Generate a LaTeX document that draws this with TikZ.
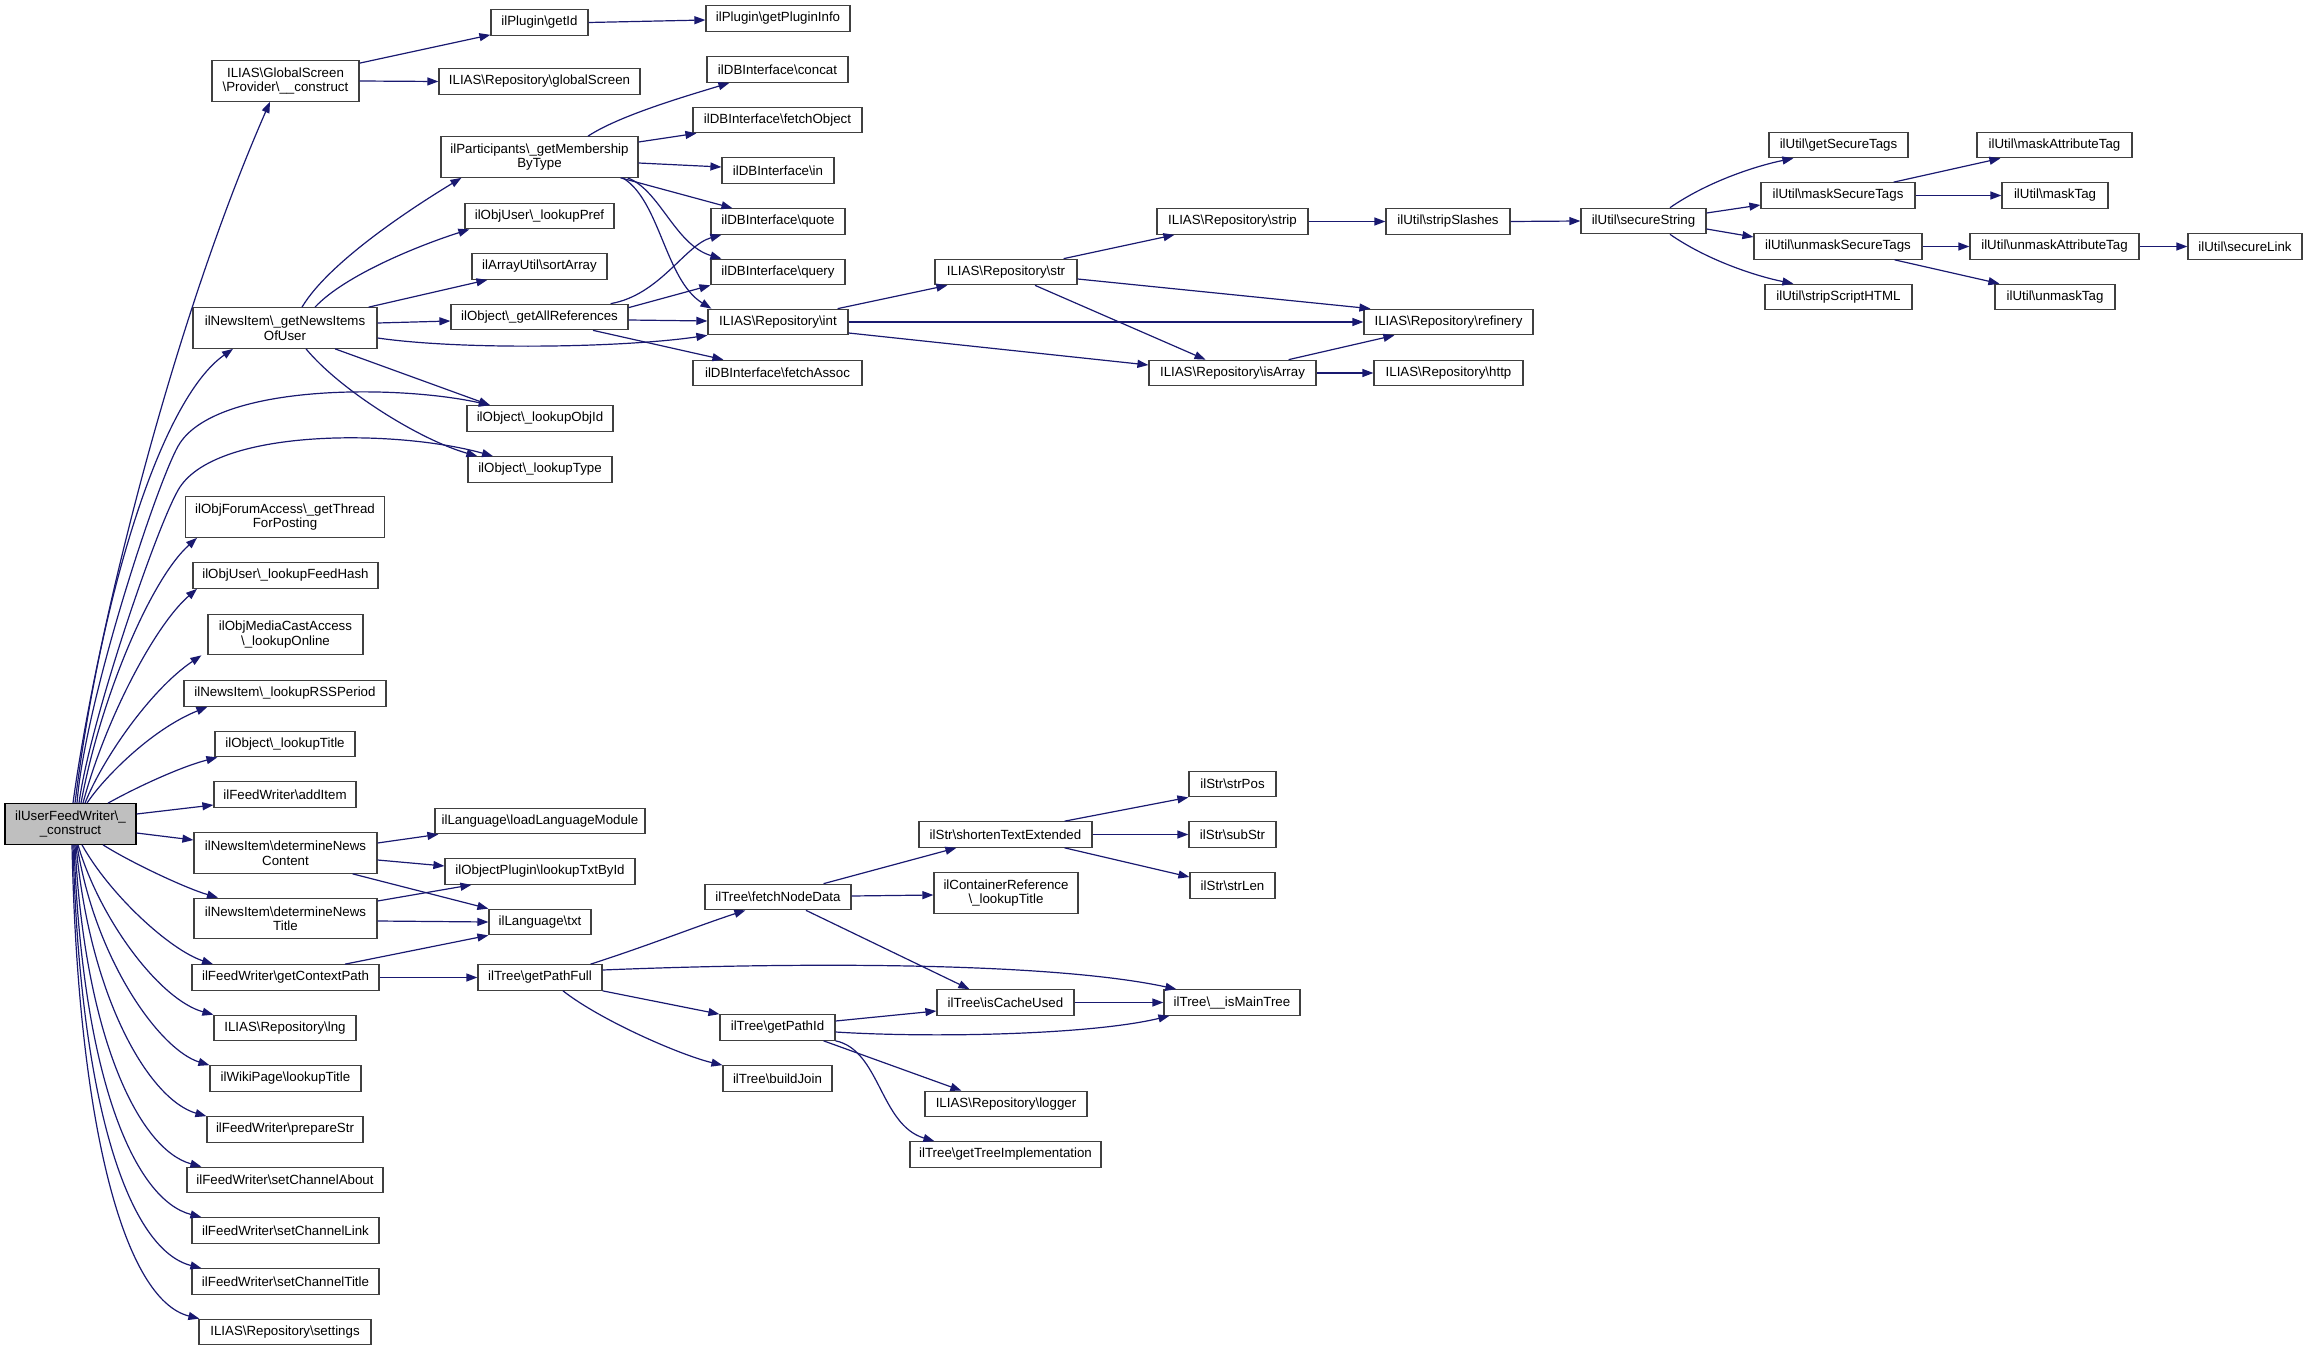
\documentclass[tikz,border=0pt]{standalone}
\usepackage{fontspec}
\setmainfont{Liberation Sans}
\usetikzlibrary{arrows.meta}
\definecolor{edgec}{HTML}{191970}
\definecolor{boxc}{HTML}{404040}
\definecolor{rootfill}{HTML}{BFBFBF}
\newcommand{\mybs}{\textbackslash{}}
\tikzset{
  box/.style={draw=boxc, line width=1.2pt, fill=white, minimum height=25.5pt, inner sep=0pt, align=center, font=\fontsize{13.3}{14.5}\selectfont},
  tall/.style={box, minimum height=40.5pt},
  rootbox/.style={tall, fill=rootfill, draw=black},
  edge/.style={draw=edgec, line width=1.2pt, -{Triangle[length=11pt,width=8pt]}}
}
\begin{document}
\begin{tikzpicture}[x=1pt,y=-1pt]
\useasboundingbox (0,0) rectangle (2308,1351);
% column A
\node[rootbox, minimum width=131pt] (R) at (70.5,824) {ilUserFeedWriter\mybs\_\\\_construct};
% column B
\node[tall, minimum width=147pt] (gsp) at (285.5,81) {ILIAS\mybs GlobalScreen\\\mybs Provider\mybs\_\_construct};
\node[tall, minimum width=184pt] (gniu) at (285,328) {ilNewsItem\mybs\_getNewsItems\\OfUser};
\node[tall, minimum width=199pt] (gtfp) at (285,517) {ilObjForumAccess\mybs\_getThread\\ForPosting};
\node[box, minimum width=185pt] (lfh) at (285.5,575.5) {ilObjUser\mybs\_lookupFeedHash};
\node[tall, minimum width=155pt] (lo) at (285.5,634.5) {ilObjMediaCastAccess\\\mybs\_lookupOnline};
\node[box, minimum width=202pt] (rss) at (285,693.5) {ilNewsItem\mybs\_lookupRSSPeriod};
\node[box, minimum width=140pt] (lt) at (285,744) {ilObject\mybs\_lookupTitle};
\node[box, minimum width=142pt] (ai) at (285,794.5) {ilFeedWriter\mybs addItem};
\node[tall, minimum width=183pt] (dnc) at (285.5,853) {ilNewsItem\mybs determineNews\\Content};
\node[tall, minimum width=183pt] (dnt) at (285.5,918.5) {ilNewsItem\mybs determineNews\\Title};
\node[box, minimum width=187pt] (gcp) at (285.5,977.5) {ilFeedWriter\mybs getContextPath};
\node[box, minimum width=142pt] (lng) at (285,1028) {ILIAS\mybs Repository\mybs lng};
\node[box, minimum width=151pt] (wpl) at (285.5,1078.5) {ilWikiPage\mybs lookupTitle};
\node[box, minimum width=156pt] (ps) at (285,1129.5) {ilFeedWriter\mybs prepareStr};
\node[box, minimum width=196pt] (sca) at (285,1180) {ilFeedWriter\mybs setChannelAbout};
\node[box, minimum width=187pt] (scl) at (285.5,1230.5) {ilFeedWriter\mybs setChannelLink};
\node[box, minimum width=187pt] (sct) at (285.5,1281.5) {ilFeedWriter\mybs setChannelTitle};
\node[box, minimum width=172pt] (set) at (285,1332) {ILIAS\mybs Repository\mybs settings};
% column C
\node[box, minimum width=97pt] (gid) at (539.5,22.5) {ilPlugin\mybs getId};
\node[box, minimum width=201pt] (gs) at (539.5,81.5) {ILIAS\mybs Repository\mybs globalScreen};
\node[tall, minimum width=197pt] (gmbt) at (539.5,157) {ilParticipants\mybs\_getMembership\\ByType};
\node[box, minimum width=149pt] (lp) at (539.5,216) {ilObjUser\mybs\_lookupPref};
\node[box, minimum width=135pt] (sa) at (539.5,266.5) {ilArrayUtil\mybs sortArray};
\node[box, minimum width=177pt] (gar) at (539.5,317) {ilObject\mybs\_getAllReferences};
\node[box, minimum width=146pt] (loi) at (540,418.5) {ilObject\mybs\_lookupObjId};
\node[box, minimum width=144pt] (lty) at (540,469.5) {ilObject\mybs\_lookupType};
\node[box, minimum width=210pt] (llm) at (540,821) {ilLanguage\mybs loadLanguageModule};
\node[box, minimum width=190pt] (ltb) at (540,871.5) {ilObjectPlugin\mybs lookupTxtById};
\node[box, minimum width=102pt] (txt) at (540,922) {ilLanguage\mybs txt};
\node[box, minimum width=124pt] (gpf) at (540,977.5) {ilTree\mybs getPathFull};
% column D
\node[box, minimum width=144pt] (gpinfo) at (778,18.5) {ilPlugin\mybs getPluginInfo};
\node[box, minimum width=141pt] (cc) at (777.5,69.5) {ilDBInterface\mybs concat};
\node[box, minimum width=169pt] (fo) at (777.5,120) {ilDBInterface\mybs fetchObject};
\node[box, minimum width=112pt] (dbin) at (778,170.5) {ilDBInterface\mybs in};
\node[box, minimum width=134pt] (qu) at (778,221.5) {ilDBInterface\mybs quote};
\node[box, minimum width=134pt] (qy) at (778,272) {ilDBInterface\mybs query};
\node[box, minimum width=140pt] (rint) at (778,322) {ILIAS\mybs Repository\mybs int};
\node[box, minimum width=169pt] (fa) at (777.5,373) {ilDBInterface\mybs fetchAssoc};
\node[box, minimum width=146pt] (fnd) at (778,897) {ilTree\mybs fetchNodeData};
\node[box, minimum width=115pt] (gpid) at (777.5,1027.5) {ilTree\mybs getPathId};
\node[box, minimum width=109pt] (bj) at (777.5,1078.5) {ilTree\mybs buildJoin};
% column E
\node[box, minimum width=142pt] (rstr) at (1006,272) {ILIAS\mybs Repository\mybs str};
\node[box, minimum width=173pt] (ste) at (1005.5,834.5) {ilStr\mybs shortenTextExtended};
\node[tall, minimum width=144pt] (crl) at (1006,893) {ilContainerReference\\\mybs\_lookupTitle};
\node[box, minimum width=137pt] (icu) at (1005.5,1002.5) {ilTree\mybs isCacheUsed};
\node[box, minimum width=162pt] (log) at (1006,1104) {ILIAS\mybs Repository\mybs logger};
\node[box, minimum width=191pt] (gti) at (1005.5,1154.5) {ilTree\mybs getTreeImplementation};
% column F
\node[box, minimum width=151pt] (strip) at (1232.5,221.5) {ILIAS\mybs Repository\mybs strip};
\node[box, minimum width=167pt] (isa) at (1232.5,373) {ILIAS\mybs Repository\mybs isArray};
\node[box, minimum width=87pt] (sp) at (1232.5,784) {ilStr\mybs strPos};
\node[box, minimum width=87pt] (ss) at (1232.5,834.5) {ilStr\mybs subStr};
\node[box, minimum width=85pt] (sl) at (1232.5,885.5) {ilStr\mybs strLen};
\node[box, minimum width=136pt] (imt) at (1232,1002.5) {ilTree\mybs\_\_isMainTree};
% column G
\node[box, minimum width=124pt] (ssl) at (1448,221.5) {ilUtil\mybs stripSlashes};
\node[box, minimum width=169pt] (ref) at (1448.5,322) {ILIAS\mybs Repository\mybs refinery};
\node[box, minimum width=149pt] (http) at (1448.5,373) {ILIAS\mybs Repository\mybs http};
% column H
\node[box, minimum width=125pt] (sst) at (1643.5,221) {ilUtil\mybs secureString};
% column I
\node[box, minimum width=139pt] (gst) at (1838.5,145) {ilUtil\mybs getSecureTags};
\node[box, minimum width=154pt] (mst) at (1838,195.5) {ilUtil\mybs maskSecureTags};
\node[box, minimum width=168pt] (ust) at (1838,246.5) {ilUtil\mybs unmaskSecureTags};
\node[box, minimum width=147pt] (ssh) at (1838.5,297) {ilUtil\mybs stripScriptHTML};
% column J
\node[box, minimum width=155pt] (mat) at (2054.5,145) {ilUtil\mybs maskAttributeTag};
\node[box, minimum width=106pt] (mt) at (2055,195.5) {ilUtil\mybs maskTag};
\node[box, minimum width=169pt] (uat) at (2054.5,246.5) {ilUtil\mybs unmaskAttributeTag};
\node[box, minimum width=120pt] (ut) at (2055,297) {ilUtil\mybs unmaskTag};
% column K
\node[box, minimum width=114pt] (sln) at (2245,246.5) {ilUtil\mybs secureLink};

% ---------- edges from root (upward fan)
\draw[edge] ([xshift=2.5pt]R.north) .. controls (95,640) and (170,330) .. ([xshift=-15.5pt]gsp.south);
\draw[edge] ([xshift=4.5pt]R.north) .. controls (100,600) and (160,400) .. ([xshift=-52pt]gniu.south);
\draw[edge] ([xshift=6.5pt]R.north) .. controls (85,700) and (160,473) .. (180,443) .. controls (220,383) and (400,385) .. ([xshift=-50pt]loi.north);
\draw[edge] ([xshift=8.5pt]R.north) .. controls (90,720) and (160,517) .. (180,487) .. controls (220,427) and (400,430) .. ([xshift=-47pt]lty.north);
\draw[edge] ([xshift=10.5pt]R.north) .. controls (100,700) and (150,580) .. ([xshift=-88pt]gtfp.south);
\draw[edge] ([xshift=12.5pt]R.north) .. controls (105,720) and (155,625) .. ([xshift=-88.5pt]lfh.south);
\draw[edge] ([xshift=14.5pt]R.north) .. controls (102,760) and (150,690) .. ([xshift=-6pt]lo.south west);
\draw[edge] ([xshift=16.5pt]R.north) .. controls (102,780) and (150,730) .. ([xshift=24pt]rss.south west);
\draw[edge] ([xshift=37.5pt]R.north) .. controls (135,788) and (180,767) .. ([xshift=3pt]lt.south west);
\draw[edge] ([yshift=10pt]R.east) -- ([yshift=-10.5pt]ai.west);
\draw[edge] ([yshift=-9pt]R.east) -- ([yshift=13pt]dnc.west);
% downward fan
\draw[edge] ([xshift=32.5pt]R.south) .. controls (130,862) and (185,888) .. ([xshift=-67.5pt]dnt.north);
\draw[edge] ([xshift=11.5pt]R.south) .. controls (110,895) and (170,950) .. ([xshift=-72.5pt]gcp.north);
\draw[edge] ([xshift=7.5pt]R.south) .. controls (100,920) and (160,1000) .. (lng.north west);
\draw[edge] ([xshift=6.5pt]R.south) .. controls (95,960) and (160,1050) .. (wpl.north west);
\draw[edge] ([xshift=5.5pt]R.south) .. controls (90,1000) and (150,1100) .. (ps.north west);
\draw[edge] ([xshift=4.5pt]R.south) .. controls (85,1040) and (140,1150) .. ([xshift=15pt]sca.north west);
\draw[edge] ([xshift=3.5pt]R.south) .. controls (82,1080) and (135,1200) .. ([xshift=10pt]scl.north west);
\draw[edge] ([xshift=2.5pt]R.south) .. controls (80,1110) and (130,1250) .. ([xshift=10pt]sct.north west);
\draw[edge] ([xshift=1.5pt]R.south) .. controls (78,1130) and (125,1300) .. ([xshift=1pt]set.north west);

% ---------- GlobalScreen provider
\draw[edge] ([yshift=-3pt]gsp.north east) -- ([yshift=1pt]gid.south west);
\draw[edge] (gsp.east) -- (gs.west);
\draw[edge] (gid.east) -- ([yshift=-1.5pt]gpinfo.west);

% ---------- getNewsItemsOfUser
\draw[edge] ([xshift=17pt]gniu.north) .. controls (330,260) and (420,203) .. ([xshift=21pt]gmbt.south west);
\draw[edge] ([xshift=30pt]gniu.north) .. controls (345,275) and (420,245) .. ([xshift=5pt]lp.south west);
\draw[edge] ([xshift=-9pt]gniu.north east) -- ([xshift=16pt]sa.south west);
\draw[edge] ([yshift=5pt]gniu.east) -- ([yshift=-4pt]gar.west);
\draw[edge] ([yshift=-10pt]gniu.east) .. controls (460,350) and (620,348) .. (rint.south west);
\draw[edge] ([xshift=50pt]gniu.south) -- ([xshift=-50pt]loi.north);
\draw[edge] ([xshift=21pt]gniu.south) .. controls (340,390) and (420,440) .. ([xshift=10pt]lty.north west);

% ---------- getMembershipByType
\draw[edge] ([xshift=48.5pt]gmbt.north) .. controls (620,115) and (690,95) .. ([xshift=23pt]cc.south west);
\draw[edge] ([yshift=15pt]gmbt.east) -- ([xshift=4pt]fo.south west);
\draw[edge] ([yshift=-6pt]gmbt.east) -- ([yshift=3.5pt]dbin.west);
\draw[edge] ([xshift=-18pt]gmbt.south east) -- ([xshift=22pt]qu.north west);
\draw[edge] ([xshift=-11pt]gmbt.south east) .. controls (660,190) and (675,245) .. ([xshift=11pt]qy.north west);
\draw[edge] ([xshift=-16pt]gmbt.south east) .. controls (660,200) and (665,280) .. ([xshift=4pt]rint.north west);

% ---------- getAllReferences
\draw[edge] ([xshift=-18pt]gar.north east) .. controls (660,295) and (685,245) .. ([xshift=11pt]qu.south west);
\draw[edge] ([yshift=-4pt]gar.north east) -- (qy.south west);
\draw[edge] ([yshift=-3pt]gar.east) -- ([yshift=1pt]rint.west);
\draw[edge] ([xshift=53.5pt]gar.south) -- ([xshift=31pt]fa.north west);

% ---------- Repository int / str
\draw[edge] ([xshift=-11pt]rint.north east) -- ([xshift=13pt]rstr.south west);
\draw[edge] (rint.east) -- (ref.west);
\draw[edge] ([yshift=-11pt]rint.east) -- ([yshift=8pt]isa.west);
\draw[edge] ([xshift=-14pt]rstr.north east) -- ([xshift=18pt]strip.south west);
\draw[edge] ([yshift=-7pt]rstr.east) -- ([xshift=7pt]ref.north west);
\draw[edge] ([xshift=29pt]rstr.south) -- ([xshift=-27pt]isa.north);
\draw[edge] (strip.east) -- (ssl.west);
\draw[edge] (ssl.east) -- (sst.west);
\draw[edge] ([xshift=-28pt]isa.north east) -- ([xshift=31pt]ref.south west);
\draw[edge] (isa.east) -- (http.west);

% ---------- secureString
\draw[edge] ([xshift=26.5pt]sst.north) .. controls (1710,180) and (1760,165) .. ([xshift=25pt]gst.south west);
\draw[edge] ([yshift=8pt]sst.east) -- ([yshift=-9.5pt]mst.west);
\draw[edge] ([yshift=-8pt]sst.east) -- ([yshift=9.5pt]ust.west);
\draw[edge] ([xshift=26.5pt]sst.south) .. controls (1710,262) and (1760,277) .. ([xshift=29pt]ssh.north west);
\draw[edge] ([xshift=-22pt]mst.north east) -- ([xshift=24pt]mat.south west);
\draw[edge] (mst.east) -- (mt.west);
\draw[edge] (ust.east) -- (uat.west);
\draw[edge] ([xshift=-28pt]ust.south east) -- ([xshift=5pt]ut.north west);
\draw[edge] (uat.east) -- (sln.west);

% ---------- determineNews*
\draw[edge] ([yshift=10pt]dnc.east) -- ([xshift=4pt]llm.south west);
\draw[edge] ([yshift=-7pt]dnc.east) -- ([yshift=5.5pt]ltb.west);
\draw[edge] ([xshift=-25pt]dnc.south east) -- (txt.north west);
\draw[edge] ([yshift=17.5pt]dnt.east) -- ([xshift=27pt]ltb.south west);
\draw[edge] ([yshift=-2.5pt]dnt.east) -- (txt.west);
\draw[edge] ([xshift=59.5pt]gcp.north) -- (txt.south west);
\draw[edge] (gcp.east) -- (gpf.west);

% ---------- getPathFull
\draw[edge] ([xshift=-12pt]gpf.north east) .. controls (650,945) and (700,925) .. ([xshift=41pt]fnd.south west);
\draw[edge] ([yshift=7.5pt]gpf.east) .. controls (800,962) and (1050,962) .. ([xshift=13pt]imt.north west);
\draw[edge] (gpf.south east) -- (gpid.north west);
\draw[edge] ([xshift=23pt]gpf.south) .. controls (600,1020) and (680,1055) .. (bj.north west);

% ---------- fetchNodeData
\draw[edge] ([xshift=-28pt]fnd.north east) -- ([xshift=38pt]ste.south west);
\draw[edge] ([yshift=1pt]fnd.east) -- ([yshift=-2pt]crl.west);
\draw[edge] ([xshift=28pt]fnd.south) -- ([xshift=33pt]icu.north west);
\draw[edge] ([xshift=-28pt]ste.north east) -- (sp.south west);
\draw[edge] (ste.east) -- (ss.west);
\draw[edge] ([xshift=-28pt]ste.south east) -- ([yshift=8.5pt]sl.west);
\draw[edge] (icu.east) -- (imt.west);

% ---------- getPathId
\draw[edge] ([yshift=6.5pt]gpid.east) -- ([yshift=-8.5pt]icu.west);
\draw[edge] ([yshift=-4.5pt]gpid.east) .. controls (930,1038) and (1090,1035) .. ([xshift=6pt]imt.south west);
\draw[edge] ([xshift=-12pt]gpid.south east) -- ([xshift=37pt]log.north west);
\draw[edge] (gpid.south east) .. controls (880,1050) and (880,1125) .. ([xshift=25pt]gti.north west);
\end{tikzpicture}
\end{document}
